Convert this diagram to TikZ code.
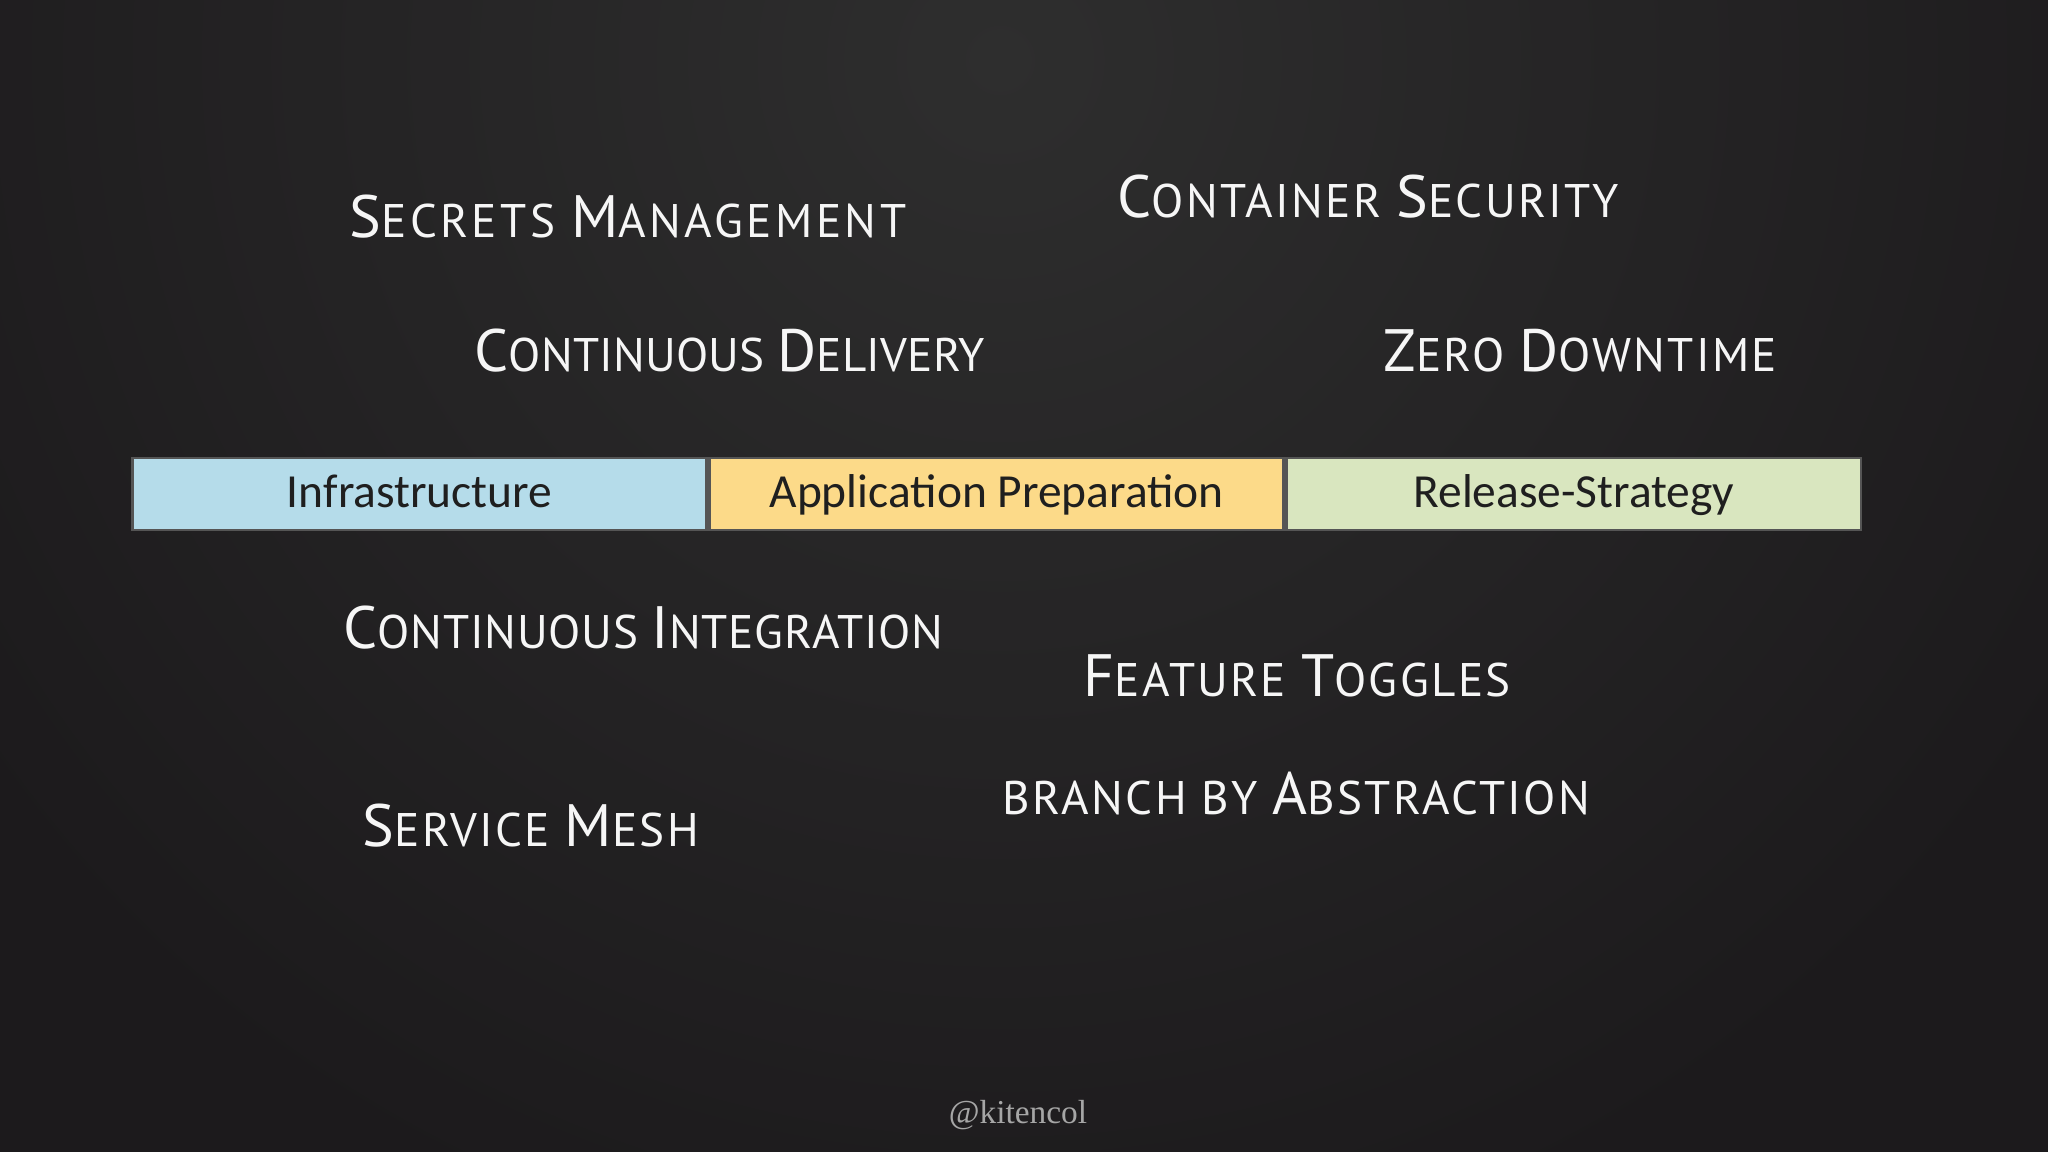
\documentclass[tikz,border=0pt]{standalone}
\usepackage{fontspec}
\usetikzlibrary{positioning}
\setmainfont{PT Sans}[LetterSpace=5]
\newfontfamily\barfont{Carlito}
\newfontfamily\tagfont{Liberation Serif}

\definecolor{board}{HTML}{1C1A1C}
\definecolor{boardlight}{HTML}{2E2E2E}
\definecolor{chalk}{HTML}{F6F6F6}
\definecolor{infrablue}{HTML}{B5DCEA}
\definecolor{appyellow}{HTML}{FCDA89}
\definecolor{relgreen}{HTML}{D9E6BF}
\definecolor{barline}{HTML}{555555}

% larger first letter for the small caps
\newcommand\capl[1]{{\fontsize{17}{17}\selectfont #1}}

\begin{document}
\begin{tikzpicture}[x=0.01cm,y=-0.01cm,
  chalk/.style={text=chalk,anchor=base west,inner sep=0pt,
    font=\fontsize{13.4}{14}\selectfont},
  part/.style={draw=barline,line width=0.8pt,minimum width=5.74cm,
    minimum height=0.72cm,inner sep=0pt,text=black!88,
    text height=9pt,text depth=1.2pt,
    font=\barfont\fontsize{13.5}{14}\selectfont}]
\useasboundingbox (0,0) rectangle (2048,1152);
% The board
\fill[board] (0,0) rectangle (2048,1152);
\begin{scope}
  \clip (0,0) rectangle (2048,1152);
  \shade[inner color=boardlight,outer color=board] (1000,60) circle (1250);
\end{scope}

% The bar
\node[part,fill=infrablue,anchor=west] (infra) at (131,494) {Infrastructure};
\node[part,fill=appyellow,right=0pt of infra] (app) {Application Preparation};
\node[part,fill=relgreen,right=0pt of app] (release) {Release-Strategy};

% Chalk words above the bar
\node[chalk] (secrets) at (349,238)
  {\addfontfeature{LetterSpace=7.3}\capl{S}ECRETS \capl{M}ANAGEMENT};
\node[chalk] (container) at (1117,218) {\capl{C}ONTAINER \capl{S}ECURITY};
\node[chalk] (delivery) at (474,372)
  {\addfontfeature{LetterSpace=0.5}\capl{C}ONTINUOUS \capl{D}ELIVERY};
\node[chalk] (downtime) at (1383,372) {\capl{Z}ERO \capl{D}OWNTIME};

% Chalk words below the bar
\node[chalk] (integration) at (343,649)
  {\addfontfeature{LetterSpace=1.7}\capl{C}ONTINUOUS \capl{I}NTEGRATION};
\node[chalk] (toggles) at (1083,696) {\capl{F}EATURE \capl{T}OGGLES};
\node[chalk] (abstraction) at (1002,814) {BRANCH BY \capl{A}BSTRACTION};
\node[chalk] (mesh) at (362,846) {\capl{S}ERVICE \capl{M}ESH};

\node[anchor=base,inner sep=0pt,text=black!35!white,
  font=\tagfont\fontsize{9.5}{10}\selectfont] (handle) at (1018,1123) {@kitencol};
\end{tikzpicture}
\end{document}
